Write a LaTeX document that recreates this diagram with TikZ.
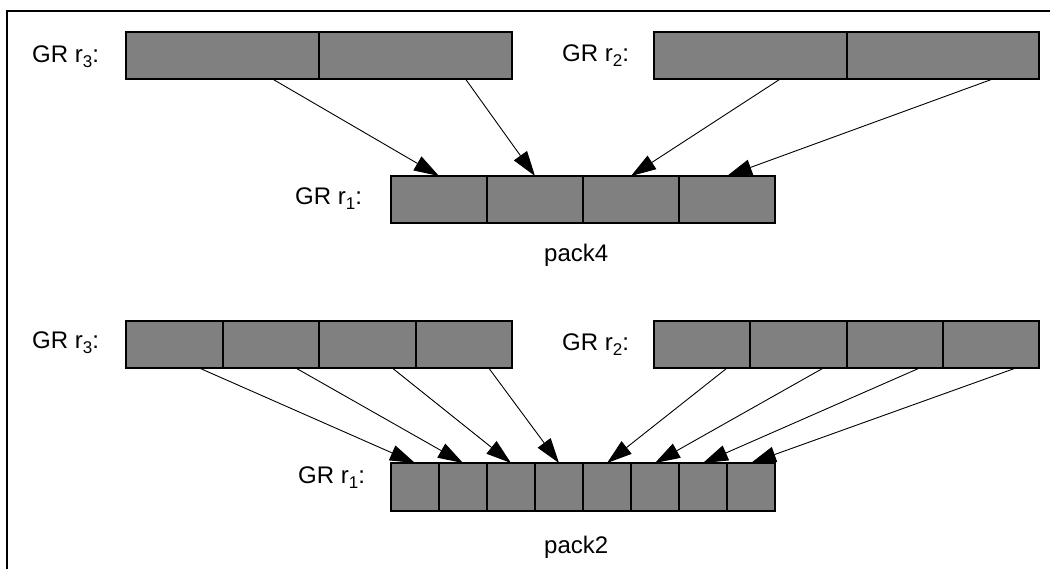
\documentclass[tikz,border=0pt]{standalone}
\usepackage{fontspec}
\setmainfont{Liberation Sans}
\usetikzlibrary{arrows.meta}
\newcommand{\subs}[1]{\raisebox{-5pt}{\fontsize{17}{17}\selectfont #1}}
\tikzset{
  cell/.style={draw=black, fill=gray50, line width=2pt, anchor=north west, inner sep=0pt, outer sep=0pt, minimum height=47pt},
  lbl/.style={anchor=base west, inner sep=0pt, font=\fontsize{24}{28}\selectfont},
  arr/.style={line width=0.9pt, -{Triangle[length=25pt,width=16pt]}},
  frame/.style={line width=1.5pt}
}
\definecolor{gray50}{HTML}{808080}
\begin{document}
\begin{tikzpicture}[x=1pt,y=-1pt]
\useasboundingbox (0,0) rectangle (1050,569);
\draw[frame] (1050,11) -- (7,11) -- (7,569);

% ---------- pack4 ----------
\foreach \i in {0,1} {
  \node[cell, minimum width=193pt] (ta\i) at ({126+193*\i},32) {};
  \node[cell, minimum width=192.5pt] (tb\i) at ({654+192.5*\i},32) {};
}
\foreach \i in {0,...,3} {
  \node[cell, minimum width=96pt] (tc\i) at ({391+96*\i},176) {};
}
\node[lbl] (l1) at (32,63) {GR r\subs{3}:};
\node[lbl] (l2) at (562,62) {GR r\subs{2}:};
\node[lbl] (l3) at (295,205) {GR r\subs{1}:};
\node[lbl] (p4) at (544,262) {pack4};

\draw[arr] ([xshift=50pt]ta0.south) -- (tc0.north);
\draw[arr] ([xshift=50pt]ta1.south) -- (tc1.north);
\draw[arr] ([xshift=30pt]tb0.south) -- (tc2.north);
\draw[arr] ([xshift=50pt]tb1.south) -- (tc3.north);

% ---------- pack2 ----------
\foreach \i in {0,...,3} {
  \node[cell, minimum width=96.5pt] (ba\i) at ({126+96.5*\i},321) {};
  \node[cell, minimum width=96.25pt] (bb\i) at ({654+96.25*\i},321) {};
}
\foreach \i in {0,...,7} {
  \node[cell, minimum width=48pt, minimum height=48pt] (bc\i) at ({391+48*\i},463) {};
}
\node[lbl] (l4) at (32,349) {GR r\subs{3}:};
\node[lbl] (l5) at (562,351) {GR r\subs{2}:};
\node[lbl] (l6) at (298,483) {GR r\subs{1}:};
\node[lbl] (p2) at (544,553) {pack2};

\foreach \i in {0,...,3} {
  \pgfmathtruncatemacro{\j}{\i+4}
  \draw[arr] ([xshift=25pt]ba\i.south) -- (bc\i.north);
  \draw[arr] ([xshift=25pt]bb\i.south) -- (bc\j.north);
}
\end{tikzpicture}
\end{document}
